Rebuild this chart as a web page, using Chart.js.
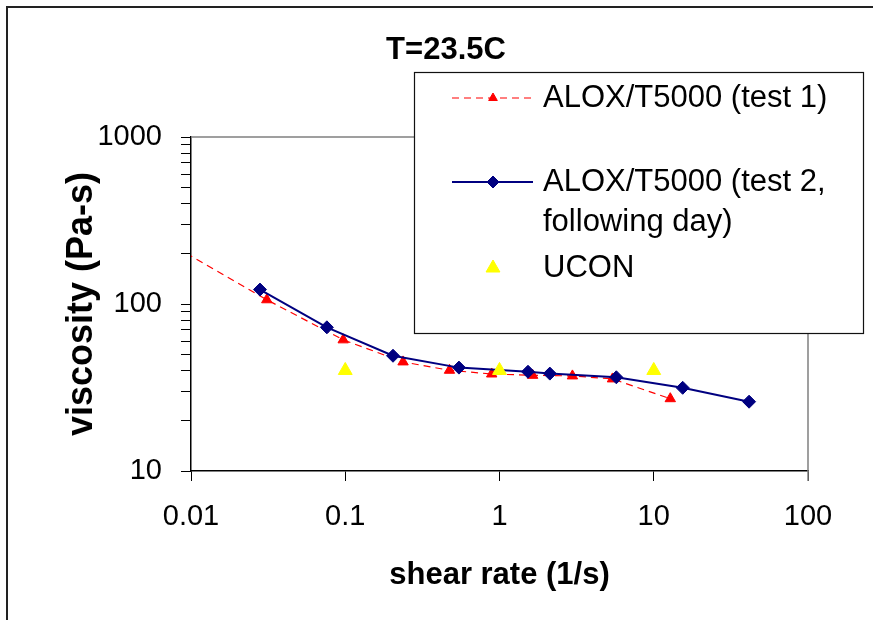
<!DOCTYPE html>
<html>
<head>
<meta charset="utf-8">
<script src="https://cdn.jsdelivr.net/npm/chart.js@4/dist/chart.umd.min.js"></script>
<style>
html,body{margin:0;padding:0;background:#fff;}
#wrap{width:873px;height:620px;position:relative;}
</style>
</head>
<body>
<div id="wrap"><canvas id="c" width="873" height="620"></canvas></div>
<script>
// ---------------- data ----------------
const chartTitle = 'T=23.5C';
const xAxisTitle = 'shear rate (1/s)';
const yAxisTitle = 'viscosity (Pa-s)';

const xTickValues = [0.01, 0.1, 1, 10, 100];
const xTickLabels = ['0.01', '0.1', '1', '10', '100'];
const yTickValues = [10, 100, 1000];
const yTickLabels = ['10', '100', '1000'];
const yMinorTickValues = [20, 30, 40, 50, 60, 70, 80, 90, 200, 300, 400, 500, 600, 700, 800, 900];

const test1Label = 'ALOX/T5000 (test 1)';
const test1X = [0.005, 0.031, 0.097, 0.237, 0.474, 0.89, 1.64, 2.97, 5.4, 12.8];
const test1Y = [280, 106, 61, 45, 40.1, 38.1, 37.4, 37.1, 35.6, 27.1];

const test2Label = 'ALOX/T5000 (test 2, following day)';
const test2LegendLines = ['ALOX/T5000 (test 2,', 'following day)'];
const test2X = [0.028, 0.076, 0.204, 0.546, 1.53, 2.12, 5.72, 15.4, 41.5];
const test2Y = [122, 72.5, 49, 41.6, 39.3, 38.3, 36.4, 31.5, 26];

const uconLabel = 'UCON';
const uconX = [0.1, 1, 10];
const uconY = [40, 40, 40];

// ---------------- chart ----------------
const FONT = "'Liberation Sans', Arial, Helvetica, sans-serif";
const toPts = (xs, ys) => xs.map((x, i) => ({x: x, y: ys[i]}));

const decor = {
  id: 'decor',
  beforeDraw(chart) {
    const c = chart.ctx;
    c.save();
    c.fillStyle = '#fff';
    c.fillRect(0, 0, chart.width, chart.height);
    // outer frame (left + top)
    c.strokeStyle = '#222';
    c.lineWidth = 2;
    c.beginPath();
    c.moveTo(7, chart.height);
    c.lineTo(7, 7);
    c.lineTo(chart.width, 7);
    c.stroke();
    // title
    c.fillStyle = '#000';
    c.font = 'bold 31px ' + FONT;
    c.textAlign = 'center';
    c.textBaseline = 'middle';
    c.fillText(chartTitle, 446, 50);
    c.restore();
  },
  beforeDatasetsDraw(chart) {
    const a = chart.chartArea, c = chart.ctx;
    c.save();
    c.strokeStyle = '#808080';
    c.lineWidth = 1.5;
    c.beginPath();
    c.moveTo(a.left, a.top);
    c.lineTo(a.right, a.top);
    c.lineTo(a.right, a.bottom + 10);
    c.stroke();
    c.restore();
  },
  afterDatasetsDraw(chart) {
    const c = chart.ctx;
    const ds = chart.data.datasets;
    c.save();
    // legend box
    const L = 414, T = 72, R = 863, B = 333;
    c.fillStyle = '#fff';
    c.fillRect(L, T, R - L, B - T);
    c.strokeStyle = '#111';
    c.lineWidth = 1.2;
    c.strokeRect(L + 0.5, T + 0.5, R - L, B - T);
    const items = [
      {d: ds[0], lines: [test1Label], ys: [98]},
      {d: ds[1], lines: test2LegendLines, ys: [182, 222]},
      {d: ds[2], lines: [uconLabel], ys: [268]}
    ];
    const x0 = 452, x1 = 533, xm = 493, xt = 543;
    items.forEach(it => {
      const d = it.d, y = it.ys[0];
      if (d.showLine) {
        c.save();
        c.strokeStyle = d.borderColor;
        c.lineWidth = d.borderWidth;
        c.setLineDash(d.borderDash || []);
        c.beginPath();
        c.moveTo(x0, y);
        c.lineTo(x1, y);
        c.stroke();
        c.restore();
      }
      c.save();
      c.fillStyle = d.pointBackgroundColor;
      c.strokeStyle = d.pointBorderColor;
      c.lineWidth = d.pointBorderWidth;
      c.setLineDash([]);
      Chart.helpers.drawPoint(c, {pointStyle: d.pointStyle, radius: d.legendRadius, rotation: 0, borderWidth: d.pointBorderWidth}, xm, y);
      c.restore();
      c.fillStyle = '#000';
      c.font = '31px ' + FONT;
      c.textAlign = 'left';
      c.textBaseline = 'middle';
      it.lines.forEach((t, i) => c.fillText(t, xt, it.ys[i]));
    });
    c.restore();
  }
};

new Chart(document.getElementById('c'), {
  type: 'scatter',
  data: {
    datasets: [
      {
        label: test1Label,
        data: toPts(test1X, test1Y),
        showLine: true,
        borderColor: '#FF0000',
        borderWidth: 1.2,
        borderDash: [7, 5],
        pointStyle: 'triangle',
        pointRadius: 6,
        legendRadius: 5,
        pointBackgroundColor: '#FF0000',
        pointBorderColor: '#FF0000',
        pointBorderWidth: 1,
        order: 3
      },
      {
        label: test2Label,
        data: toPts(test2X, test2Y),
        showLine: true,
        borderColor: '#000080',
        borderWidth: 2,
        pointStyle: 'rectRot',
        pointRadius: 6.5,
        legendRadius: 6,
        pointBackgroundColor: '#000080',
        pointBorderColor: '#000080',
        pointBorderWidth: 1,
        order: 2
      },
      {
        label: uconLabel,
        data: toPts(uconX, uconY),
        showLine: false,
        borderColor: '#FFFF00',
        pointStyle: 'triangle',
        pointRadius: 8,
        legendRadius: 8,
        pointBackgroundColor: '#FFFF00',
        pointBorderColor: '#FFFF00',
        pointBorderWidth: 1,
        order: 1
      }
    ]
  },
  options: {
    responsive: false,
    animation: false,
    devicePixelRatio: 1,
    layout: {padding: {top: 137, right: 65, bottom: 0, left: 0}},
    plugins: {
      legend: {display: false},
      title: {display: false},
      tooltip: {enabled: false}
    },
    scales: {
      x: {
        type: 'logarithmic',
        position: 'bottom',
        min: 0.01,
        max: 100,
        afterBuildTicks: s => { s.ticks = xTickValues.map(v => ({value: v})); },
        afterFit: s => { s.height = 149; },
        ticks: {
          autoSkip: false,
          maxRotation: 0,
          color: '#000',
          padding: 19,
          font: {family: FONT, size: 29},
          callback: v => { const i = xTickValues.indexOf(v); return i >= 0 ? xTickLabels[i] : null; }
        },
        grid: {drawOnChartArea: false, drawTicks: true, tickLength: 10, color: '#000', lineWidth: 1},
        border: {color: '#000', width: 1.5},
        title: {display: true, text: xAxisTitle, color: '#000', font: {family: FONT, size: 31, weight: 'bold'}, padding: 26}
      },
      y: {
        type: 'logarithmic',
        position: 'left',
        min: 10,
        max: 1000,
        afterBuildTicks: s => {
          s.ticks = yTickValues.concat(yMinorTickValues).sort((a, b) => a - b).map(v => ({value: v, major: yTickValues.includes(v)}));
        },
        afterFit: s => { s.width = 191; },
        ticks: {
          autoSkip: false,
          color: '#000',
          padding: 19,
          font: {family: FONT, size: 29},
          callback: v => { const i = yTickValues.indexOf(v); return i >= 0 ? yTickLabels[i] : ''; }
        },
        grid: {drawOnChartArea: false, drawTicks: true, tickLength: 10, color: '#000', lineWidth: 1},
        border: {color: '#000', width: 1.5},
        title: {display: true, text: yAxisTitle, color: '#000', font: {family: FONT, size: 36, weight: 'bold'}, padding: {top: 60, bottom: 0}}
      }
    }
  },
  plugins: [decor]
});
</script>
</body>
</html>
